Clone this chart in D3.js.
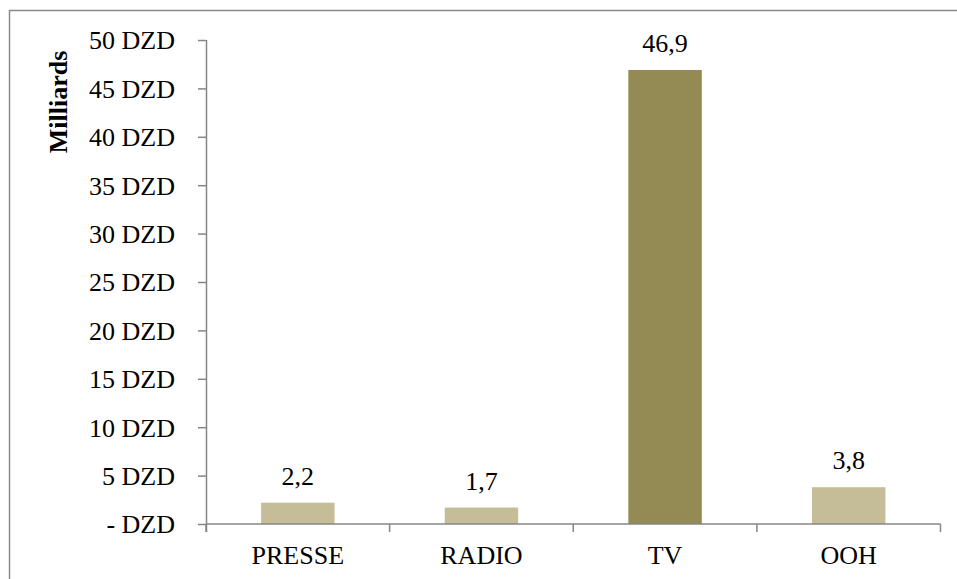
<!DOCTYPE html>
<html>
<head>
<meta charset="utf-8">
<script src="https://cdn.jsdelivr.net/npm/d3@7"></script>
<style>
  html, body { margin: 0; padding: 0; background: #fff; }
  svg { display: block; }
  text { font-family: "Liberation Serif", "Times New Roman", serif; fill: #000; }
</style>
</head>
<body>
<svg id="chart" width="957" height="579"></svg>
<script>
// Ad spend by medium, in billions of DZD
const categories = ["PRESSE", "RADIO", "TV", "OOH"];
const values = [2.2, 1.7, 46.9, 3.8];
const barColors = ["#C4BD97", "#C4BD97", "#948A54", "#C4BD97"];
const yTicks = [0, 5, 10, 15, 20, 25, 30, 35, 40, 45, 50];
const yTickLabels = ["- DZD", "5 DZD", "10 DZD", "15 DZD", "20 DZD", "25 DZD", "30 DZD", "35 DZD", "40 DZD", "45 DZD", "50 DZD"];
const yTitle = "Milliards";

const svg = d3.select("#chart");
const W = 957, H = 579;
const axisColor = "#868686";
const fmt = v => v.toFixed(1).replace(".", ",");

// outer frame (runs off the right and bottom edges)
svg.append("rect")
  .attr("x", 9.5).attr("y", 10.5)
  .attr("width", W + 10).attr("height", H + 10)
  .attr("fill", "none").attr("stroke", "#8a8a8a").attr("stroke-width", 1.5);

const plot = { left: 206, right: 940.5, top: 40, bottom: 524 };

const x = d3.scaleBand()
  .domain(categories)
  .range([plot.left, plot.right])
  .paddingInner(0.6)
  .paddingOuter(0.3);

const y = d3.scaleLinear()
  .domain([0, 50])
  .range([plot.bottom, plot.top]);

// bars
svg.append("g").selectAll("rect")
  .data(categories)
  .join("rect")
  .attr("x", d => x(d))
  .attr("width", x.bandwidth())
  .attr("y", (d, i) => y(values[i]))
  .attr("height", (d, i) => y(0) - y(values[i]))
  .attr("fill", (d, i) => barColors[i]);

// value labels
svg.append("g").selectAll("text")
  .data(categories)
  .join("text")
  .attr("x", d => x(d) + x.bandwidth() / 2)
  .attr("y", (d, i) => y(values[i]) - 18)
  .attr("text-anchor", "middle")
  .style("font-size", "26px")
  .text((d, i) => fmt(values[i]));

// y axis
const yAxis = d3.axisLeft(y)
  .tickValues(yTicks)
  .tickFormat((d, i) => yTickLabels[i])
  .tickSize(8)
  .tickPadding(23)
  .tickSizeOuter(0);

const gy = svg.append("g")
  .attr("transform", `translate(${plot.left},0)`)
  .call(yAxis);
gy.select(".domain").attr("stroke", axisColor).attr("stroke-width", 1.5)
  .attr("d", `M0.5,${plot.top}V${plot.bottom + 8}`);
gy.selectAll(".tick line").attr("stroke", axisColor).attr("stroke-width", 1.5);
gy.selectAll(".tick text")
  .style("font-size", "26px")
  .attr("dy", "0.34em");

// x axis: baseline, category separators and labels
const gx = svg.append("g");
gx.append("line")
  .attr("x1", plot.left).attr("x2", plot.right)
  .attr("y1", plot.bottom).attr("y2", plot.bottom)
  .attr("stroke", axisColor).attr("stroke-width", 1.5);
const sepScale = d3.scaleLinear().domain([0, categories.length]).range([plot.left, plot.right]);
gx.selectAll("line.sep")
  .data(d3.range(categories.length + 1))
  .join("line")
  .attr("class", "sep")
  .attr("x1", d => sepScale(d)).attr("x2", d => sepScale(d))
  .attr("y1", plot.bottom).attr("y2", plot.bottom + 8)
  .attr("stroke", axisColor).attr("stroke-width", 1.5);
gx.selectAll("text")
  .data(categories)
  .join("text")
  .attr("x", d => x(d) + x.bandwidth() / 2)
  .attr("y", 564)
  .attr("text-anchor", "middle")
  .style("font-size", "26px")
  .text(d => d);

// y axis title
svg.append("text")
  .attr("transform", "translate(67,102) rotate(-90)")
  .attr("text-anchor", "middle")
  .style("font-size", "26px")
  .style("font-weight", "bold")
  .text(yTitle);
</script>
</body>
</html>
